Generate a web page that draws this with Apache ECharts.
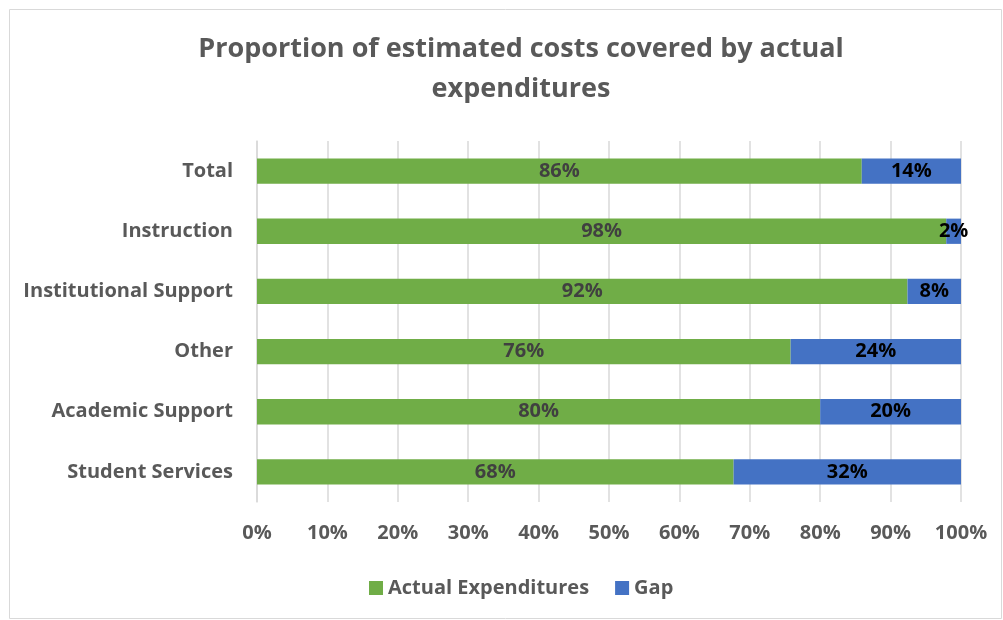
<!DOCTYPE html>
<html><head><meta charset="utf-8">
<script src="https://cdn.jsdelivr.net/npm/echarts@6/dist/echarts.min.js"></script>
<style>html,body{margin:0;padding:0;background:#fff}#c{width:1003px;height:620px}</style>
</head><body><div id="c"></div>
<script>
const categories = ['Student Services','Academic Support','Other','Institutional Support','Instruction','Total'];
const actualValues = [67.7, 80.0, 75.8, 92.4, 97.9, 85.9];
const gapValues = [32.3, 20.0, 24.2, 7.6, 2.1, 14.1];
const seriesNames = ['Actual Expenditures','Gap'];
const tickLabels = ['0%','10%','20%','30%','40%','50%','60%','70%','80%','90%','100%'];
const FONT = '"Open Sans", sans-serif';
const chart = echarts.init(document.getElementById('c'));
chart.setOption({
  animation:false,
  textStyle:{fontFamily:FONT},
  graphic:[{type:'rect',shape:{x:9.5,y:9.5,width:992,height:609},style:{fill:'none',stroke:'#d9d9d9',lineWidth:1},silent:true,z:-1}],
  title:{text:'Proportion of estimated costs covered by actual\nexpenditures',left:516,top:24,textAlign:'center',
    textStyle:{fontFamily:FONT,fontSize:27,fontWeight:'bold',color:'#595959',lineHeight:40}},
  legend:{bottom:17,left:364,itemWidth:14,itemHeight:14,itemGap:26,icon:'rect',
    textStyle:{fontFamily:FONT,fontSize:20,fontWeight:'bold',color:'#595959'},data:seriesNames},
  grid:{left:257,right:42,top:141,bottom:118,containLabel:false},
  xAxis:{type:'value',min:0,max:100,interval:10,
    axisLabel:{margin:21,fontFamily:FONT,fontSize:20,fontWeight:'bold',color:'#595959',formatter:(v)=>tickLabels[Math.round(v/10)]},
    splitLine:{show:true,lineStyle:{color:'#d9d9d9',width:1.5}},axisLine:{show:false},axisTick:{show:false}},
  yAxis:{type:'category',data:categories,
    axisLabel:{margin:24,fontFamily:FONT,fontSize:20,fontWeight:'bold',color:'#595959'},
    axisLine:{show:true,lineStyle:{color:'#d9d9d9',width:1.5}},axisTick:{show:false}},
  series:[
    {name:seriesNames[0],type:'bar',stack:'s',data:actualValues,barWidth:'42%',itemStyle:{color:'#70ad47'},
      label:{show:true,position:'inside',fontFamily:FONT,fontSize:20,fontWeight:'bold',color:'#404040',formatter:(p)=>Math.round(p.value)+'%'}},
    {name:seriesNames[1],type:'bar',stack:'s',data:gapValues,barWidth:'42%',itemStyle:{color:'#4472c4'},
      label:{show:true,position:'inside',fontFamily:FONT,fontSize:20,fontWeight:'bold',color:'#000',formatter:(p)=>Math.round(p.value)+'%'}}
  ]
});
</script></body></html>
